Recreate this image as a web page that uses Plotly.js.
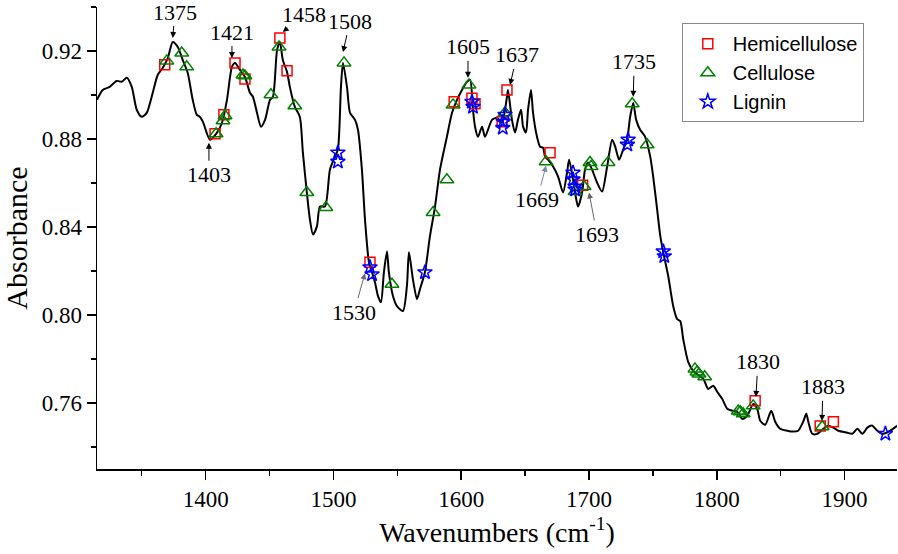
<!DOCTYPE html>
<html>
<head>
<meta charset="utf-8">
<script src="https://cdn.plot.ly/plotly-3.0.1.min.js"></script>
<style>html,body{margin:0;padding:0;background:#fff;}#chart{width:898px;height:554px;}</style>
</head>
<body>
<div id="chart"></div>
<script>
// Spectrum (wavenumber, absorbance)
const specX = [1315.0,1319.5,1324.9,1330.4,1334.3,1338.3,1342.2,1346.1,1350.0,1353.9,1358.6,1362.5,1366.4,1370.4,1374.3,1378.2,1382.1,1386.0,1389.9,1393.1,1395.4,1397.9,1403.4,1408.9,1412.8,1416.7,1420.6,1423.0,1426.9,1430.8,1434.7,1437.0,1440.2,1443.3,1446.5,1450.4,1452.7,1455.9,1458.1,1460.4,1463.7,1465.9,1469.8,1473.7,1476.1,1479.2,1481.6,1484.0,1487.1,1489.5,1493.4,1497.3,1501.2,1503.5,1505.9,1507.5,1510.6,1513.0,1516.9,1519.2,1522.3,1524.7,1527.8,1530.2,1532.5,1534.9,1537.2,1539.5,1541.9,1543.4,1546.6,1549.7,1554.4,1557.5,1559.1,1562.2,1565.4,1567.7,1571.6,1575.5,1579.5,1583.4,1588.8,1592.8,1596.7,1600.6,1604.5,1606.9,1609.2,1610.8,1613.1,1616.3,1618.6,1624.1,1628.0,1631.9,1635.8,1636.6,1639.7,1642.1,1644.4,1646.8,1648.4,1650.7,1652.3,1654.6,1656.2,1659.3,1661.7,1664.0,1665.6,1667.9,1671.9,1675.8,1679.7,1682.8,1684.4,1687.5,1689.1,1691.4,1694.6,1696.9,1699.3,1702.4,1706.3,1710.2,1714.2,1718.1,1720.5,1723.6,1726.7,1729.8,1732.2,1734.6,1736.9,1740.0,1743.9,1747.9,1750.2,1753.3,1755.7,1758.1,1762.0,1765.9,1769.0,1771.4,1773.7,1777.6,1781.5,1789.4,1793.3,1797.2,1800.3,1804.2,1808.2,1812.1,1816.0,1819.9,1823.8,1828.5,1831.6,1834.0,1837.9,1842.6,1845.7,1849.6,1855.1,1859.8,1863.7,1867.6,1870.0,1871.6,1874.7,1878.6,1883.3,1887.2,1891.2,1895.1,1902.1,1906.0,1910.0,1913.9,1917.8,1921.7,1925.6,1930.3,1935.8,1941.3];
const specY = [0.8978,0.9023,0.9037,0.9064,0.9060,0.9078,0.9037,0.8933,0.8901,0.8919,0.9010,0.9091,0.9123,0.9168,0.9241,0.9218,0.9159,0.9100,0.8978,0.8910,0.8901,0.8878,0.8797,0.8829,0.8874,0.8978,0.9128,0.9146,0.9114,0.9082,0.9010,0.8992,0.8919,0.8856,0.8887,0.8978,0.8992,0.9205,0.9241,0.9159,0.9105,0.9037,0.8946,0.8901,0.8738,0.8557,0.8434,0.8366,0.8403,0.8493,0.8493,0.8661,0.8720,0.8752,0.9037,0.9146,0.9037,0.8919,0.8887,0.8842,0.8661,0.8434,0.8240,0.8194,0.8149,0.8086,0.8058,0.8194,0.8289,0.8194,0.8086,0.8040,0.8018,0.8131,0.8285,0.8163,0.8072,0.8117,0.8194,0.8357,0.8493,0.8661,0.8810,0.8919,0.8978,0.9023,0.9060,0.9069,0.8933,0.8856,0.8810,0.8856,0.8810,0.8887,0.8896,0.8874,0.8992,0.9023,0.8887,0.8829,0.8887,0.8933,0.8856,0.8829,0.8933,0.9023,0.8919,0.8810,0.8765,0.8761,0.8720,0.8706,0.8675,0.8629,0.8557,0.8647,0.8706,0.8616,0.8557,0.8493,0.8557,0.8661,0.8693,0.8661,0.8602,0.8561,0.8675,0.8797,0.8765,0.8706,0.8752,0.8797,0.8901,0.8964,0.8887,0.8842,0.8810,0.8720,0.8629,0.8480,0.8362,0.8285,0.8176,0.8040,0.7981,0.7972,0.7891,0.7787,0.7746,0.7710,0.7664,0.7678,0.7651,0.7619,0.7574,0.7565,0.7560,0.7528,0.7542,0.7596,0.7574,0.7519,0.7501,0.7565,0.7515,0.7483,0.7474,0.7470,0.7474,0.7515,0.7551,0.7515,0.7460,0.7460,0.7483,0.7497,0.7488,0.7474,0.7465,0.7460,0.7483,0.7460,0.7488,0.7497,0.7474,0.7460,0.7474,0.7497];

// Component band markers
const hemiX = [1368.0,1407.4,1414.3,1423.0,1430.8,1458.1,1463.7,1528.6,1594.5,1608.4,1610.8,1632.0,1635.8,1669.5,1695.0,1830.0,1880.9,1891.2];
const hemiY = [0.9137,0.8824,0.8910,0.9146,0.9073,0.9259,0.9110,0.8240,0.8969,0.8985,0.8960,0.8878,0.9023,0.8738,0.8590,0.7610,0.7496,0.7515];

const celluX = [1369.6,1381.3,1385.2,1408.2,1413.6,1415.2,1429.2,1430.8,1451.1,1457.4,1469.8,1479.2,1494.1,1508.3,1545.8,1578.0,1588.8,1593.6,1606.1,1634.3,1666.4,1689.1,1696.1,1700.8,1701.6,1714.9,1733.8,1745.5,1782.9,1784.5,1786.0,1790.5,1816.8,1818.4,1820.6,1828.5,1882.5];
const celluY = [0.9155,0.9191,0.9128,0.8824,0.8883,0.8906,0.9091,0.9087,0.9001,0.9218,0.8951,0.8557,0.8489,0.9146,0.8140,0.8466,0.8615,0.8955,0.9046,0.8919,0.8697,0.8561,0.8584,0.8693,0.8675,0.8693,0.8960,0.8774,0.7755,0.7741,0.7732,0.7719,0.7564,0.7560,0.7551,0.7587,0.7492];

const ligX = [1503.5,1503.5,1528.6,1530.2,1571.6,1608.4,1609.2,1634.3,1632.8,1632.5,1687.5,1687.5,1689.1,1689.1,1730.6,1730.0,1758.1,1758.9,1931.9];
const ligY = [0.8738,0.8697,0.8217,0.8185,0.8194,0.8969,0.8946,0.8910,0.8878,0.8850,0.8647,0.8616,0.8584,0.8570,0.8797,0.8774,0.8289,0.8267,0.7460];

const seriesNames = ['Hemicellulose','Cellulose','Lignin'];

// Peak labels
const peakText = ['1375','1421','1403','1458','1508','1530','1605','1637','1669','1693','1735','1830','1883'];
const peakX = [1374.3,1420.6,1402.6,1460.4,1507.5,1524.7,1605.3,1638.2,1666.4,1700.0,1734.6,1830.6,1882.3];
const peakY = [0.9259,0.9168,0.8783,0.9286,0.9195,0.8190,0.9078,0.9046,0.8679,0.8557,0.8992,0.7628,0.7519];
const peakAx = [2,0,0,21,7,-11,0,7,-9,8,1,2,1];
const peakAy = [-26,-26,32,-18,-31,39,-31,-30,34,42,-35,-35,-34];
const peakArrowColor = ['#000','#000','#000','#000','#000','#666','#000','#000','#7a86a8','#666','#000','#000','#000'];

const serif = 'Liberation Serif, Times New Roman, serif';

const traces = [
  {x: specX, y: specY, mode: 'lines', line: {color: '#000', width: 2, shape: 'spline', smoothing: 0.7}, showlegend: false, hoverinfo: 'skip'},
  {x: hemiX, y: hemiY, mode: 'markers', name: seriesNames[0], marker: {symbol: 'square-open', size: 10, color: '#ff0000', line: {width: 1.5}}},
  {x: celluX, y: celluY, mode: 'markers', name: seriesNames[1], marker: {symbol: 'triangle-up-open', size: 12, color: '#008000', line: {width: 1.5}}},
  {x: ligX, y: ligY, mode: 'markers', name: seriesNames[2], marker: {symbol: 'star-open', size: 11, color: '#0000ff', line: {width: 1.5}}}
];

const annotations = peakText.map((t, i) => ({
  x: peakX[i], y: peakY[i], xref: 'x', yref: 'y',
  text: t, showarrow: true, ax: peakAx[i], ay: peakAy[i],
  arrowhead: 2, arrowsize: 1.2, arrowwidth: 1, arrowcolor: peakArrowColor[i],
  font: {family: serif, size: 22, color: '#000'}
}));

const layout = {
  width: 898, height: 554,
  margin: {l: 97, r: 1, t: 7, b: 85},
  paper_bgcolor: '#fff', plot_bgcolor: '#fff',
  xaxis: {
    range: [1315, 1941], dtick: 100, tick0: 1300,
    showgrid: false, zeroline: false, showline: true, linecolor: '#000', linewidth: 1.5,
    ticks: 'outside', ticklen: 9, tickwidth: 1.5, tickcolor: '#000',
    minor: {dtick: 50, ticks: 'outside', ticklen: 5, tickwidth: 1.5, tickcolor: '#000', showgrid: false},
    tickfont: {family: serif, size: 23, color: '#000'},
    title: {text: 'Wavenumbers (cm<sup>-1</sup>)', font: {family: serif, size: 28, color: '#000'}, standoff: 11}
  },
  yaxis: {
    range: [0.73, 0.94], dtick: 0.04, tick0: 0.72, tickformat: '.2f',
    showgrid: false, zeroline: false, showline: true, linecolor: '#000', linewidth: 1.5,
    ticks: 'outside', ticklen: 9, tickwidth: 1.5, tickcolor: '#000',
    minor: {dtick: 0.02, ticks: 'outside', ticklen: 5, tickwidth: 1.5, tickcolor: '#000', showgrid: false},
    tickfont: {family: serif, size: 23, color: '#000'},
    title: {text: 'Absorbance', font: {family: serif, size: 30, color: '#000'}, standoff: 12}
  },
  legend: {
    x: 0.731, y: 0.965, xanchor: 'left', yanchor: 'top',
    bgcolor: '#fff', bordercolor: '#888', borderwidth: 1,
    font: {family: 'Liberation Sans, Arial, sans-serif', size: 20, color: '#000'},
    tracegroupgap: 0, itemwidth: 40
  },
  annotations: annotations
};

Plotly.newPlot('chart', traces, layout, {displayModeBar: false, staticPlot: true});
</script>
</body>
</html>
